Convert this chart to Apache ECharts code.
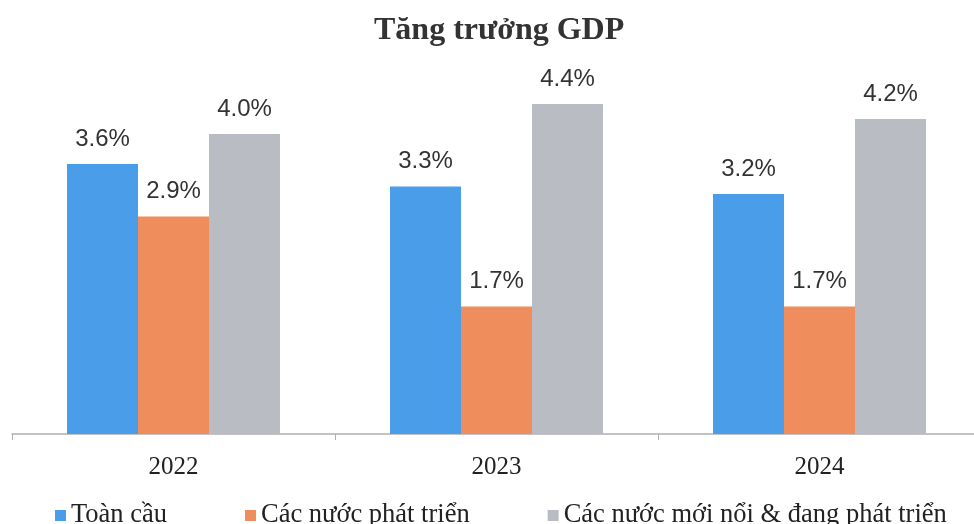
<!DOCTYPE html>
<html>
<head>
<meta charset="utf-8">
<script src="https://cdn.jsdelivr.net/npm/echarts@6/dist/echarts.min.js"></script>
<style>html,body{margin:0;padding:0;background:#fff}#c{width:974px;height:524px}</style>
</head>
<body>
<div id="c"></div>
<script>
var categories = ['2022', '2023', '2024'];
var seriesNames = ['Toàn cầu', 'Các nước phát triển', 'Các nước mới nổi & đang phát triển'];
var global = [3.6, 3.3, 3.2];
var developed = [2.9, 1.7, 1.7];
var emerging = [4.0, 4.4, 4.2];
var colors = ['#4a9de8', '#f08d5c', '#b9bcc2'];

var chart = echarts.init(document.getElementById('c'));
function mk(name, data, color) {
  return {
    name: name, type: 'bar', data: data, barWidth: 71, barGap: '0%',
    itemStyle: { color: color },
    label: {
      show: true, position: 'top', distance: 13,
      formatter: function (p) { return p.value.toFixed(1) + '%'; },
      fontFamily: 'Liberation Sans', fontSize: 24, color: '#333'
    }
  };
}
chart.setOption({
  animation: false,
  title: {
    text: 'Tăng trưởng GDP', left: 369, top: 10,
    textStyle: { fontFamily: 'Liberation Serif', fontWeight: 'bold', fontSize: 32, color: '#333' }
  },
  legend: {
    left: 50, top: 497, itemGap: 78, itemWidth: 11, itemHeight: 11,
    icon: 'rect',
    textStyle: { fontFamily: 'Liberation Serif', fontSize: 26.5, color: '#222' },
    data: seriesNames
  },
  grid: { left: 12, width: 969, top: 59, bottom: 90, outerBoundsMode: 'none', containLabel: false },
  xAxis: {
    type: 'category', data: categories,
    axisLine: { lineStyle: { color: '#b0b0b0', width: 1.5 } },
    axisTick: { show: true, length: 6, lineStyle: { color: '#b0b0b0' } },
    axisLabel: { fontFamily: 'Liberation Serif', fontSize: 25, color: '#222', margin: 21 }
  },
  yAxis: { type: 'value', min: 0, max: 5, show: false },
  series: [
    mk(seriesNames[0], global, colors[0]),
    mk(seriesNames[1], developed, colors[1]),
    mk(seriesNames[2], emerging, colors[2])
  ]
});
</script>
</body>
</html>
